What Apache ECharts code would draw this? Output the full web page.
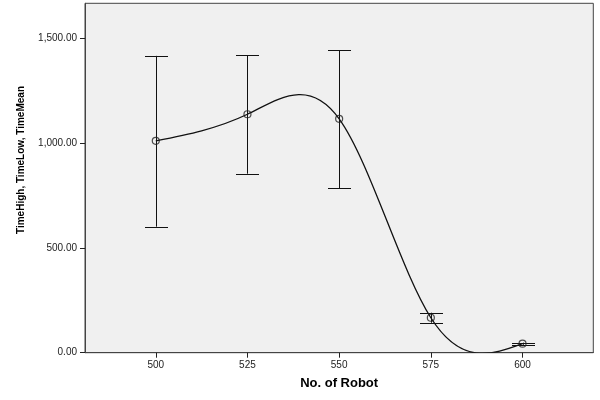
<!DOCTYPE html>
<html><head><meta charset="utf-8">
<script src="https://cdn.jsdelivr.net/npm/echarts@6/dist/echarts.min.js"></script>
<style>html,body{margin:0;padding:0;background:#fff}#c{width:600px;height:400px}</style>
</head><body><div id="c"></div>
<script>
const robots = [500, 525, 550, 575, 600];
const timeMean = [1012, 1139, 1117, 167, 43];
const timeLow = [602, 855, 786, 143, 38];
const timeHigh = [1418, 1421, 1445, 191, 48];
const xTicks = [500, 525, 550, 575, 600];
const yTicks = [0, 500, 1000, 1500];

// natural cubic spline through (xs, ys) -> bezier control points in data space
function splineBeziers(xs, ys) {
  const n = xs.length;
  const h = [];
  for (let i = 0; i < n - 1; i++) h.push(xs[i + 1] - xs[i]);
  const M = new Array(n).fill(0);
  if (n > 2) {
    const a = [], b = [], c = [], d = [];
    for (let i = 1; i < n - 1; i++) {
      a.push(h[i - 1]); b.push(2 * (h[i - 1] + h[i])); c.push(h[i]);
      d.push(6 * ((ys[i + 1] - ys[i]) / h[i] - (ys[i] - ys[i - 1]) / h[i - 1]));
    }
    const m = b.length;
    for (let i = 1; i < m; i++) {
      const w = a[i] / b[i - 1];
      b[i] -= w * c[i - 1]; d[i] -= w * d[i - 1];
    }
    const sol = new Array(m);
    sol[m - 1] = d[m - 1] / b[m - 1];
    for (let i = m - 2; i >= 0; i--) sol[i] = (d[i] - c[i] * sol[i + 1]) / b[i];
    for (let i = 0; i < m; i++) M[i + 1] = sol[i];
  }
  const segs = [];
  for (let i = 0; i < n - 1; i++) {
    const hi = h[i], s = (ys[i + 1] - ys[i]) / hi;
    const d0 = s - hi * (2 * M[i] + M[i + 1]) / 6;
    const d1 = s + hi * (M[i] + 2 * M[i + 1]) / 6;
    segs.push([
      [xs[i] + hi / 3, ys[i] + d0 * hi / 3],
      [xs[i + 1] - hi / 3, ys[i + 1] - d1 * hi / 3],
      [xs[i + 1], ys[i + 1]]
    ]);
  }
  return segs;
}

const segs = splineBeziers(robots, timeMean);
const fmt = v => Number(v).toLocaleString('en-US', {minimumFractionDigits: 2, maximumFractionDigits: 2});
const labelFont = {fontFamily: 'Liberation Sans, Arial, sans-serif', fontSize: 10, color: '#222'};

const chart = echarts.init(document.getElementById('c'), null, {renderer: 'canvas'});
chart.setOption({
  animation: false,
  backgroundColor: '#fff',
  grid: {left: 85, right: 6.7, top: 3.3, bottom: 47.3, show: true, backgroundColor: '#f0f0f0', borderColor: '#444', borderWidth: 1},
  xAxis: {
    type: 'value', min: 480.7, max: 619.3,
    name: 'No. of Robot', nameLocation: 'middle', nameGap: 24,
    nameTextStyle: {fontFamily: 'Liberation Sans, Arial, sans-serif', fontSize: 13, fontWeight: 'bold', color: '#000'},
    axisLine: {show: true, onZero: false, lineStyle: {color: '#444'}},
    axisTick: {show: true, length: 5, customValues: xTicks, lineStyle: {color: '#222'}},
    axisLabel: Object.assign({customValues: xTicks, margin: 8}, labelFont),
    splitLine: {show: false}
  },
  yAxis: {
    type: 'value', min: 0, max: 1669,
    name: 'TimeHigh, TimeLow, TimeMean', nameLocation: 'middle', nameGap: 59,
    nameTextStyle: {fontFamily: 'Liberation Sans, Arial, sans-serif', fontSize: 10, fontWeight: 'bold', color: '#000', padding: [0, 0, 0, 36]},
    axisLine: {show: true, lineStyle: {color: '#444'}},
    axisTick: {show: true, length: 5, customValues: yTicks, lineStyle: {color: '#222'}},
    axisLabel: Object.assign({customValues: yTicks, margin: 8, formatter: fmt}, labelFont),
    splitLine: {show: false}
  },
  series: [
    {
      type: 'custom', name: 'curve', clip: true, silent: true,
      data: [[robots[0], timeMean[0]]],
      renderItem: function (params, api) {
        const p0 = api.coord([robots[0], timeMean[0]]);
        let d = 'M' + p0[0] + ' ' + p0[1];
        segs.forEach(s => {
          const a = api.coord(s[0]), b = api.coord(s[1]), c = api.coord(s[2]);
          d += ' C' + a[0] + ' ' + a[1] + ' ' + b[0] + ' ' + b[1] + ' ' + c[0] + ' ' + c[1];
        });
        return {type: 'path', shape: {pathData: d}, style: {fill: null, stroke: '#111', lineWidth: 1.3}};
      }
    },
    {
      type: 'custom', name: 'error', clip: true, silent: true,
      data: robots.map((x, i) => [x, timeLow[i], timeHigh[i]]),
      encode: {x: 0, y: [1, 2]},
      renderItem: function (params, api) {
        const x = api.value(0);
        const lo = api.coord([x, api.value(1)]);
        const hi = api.coord([x, api.value(2)]);
        const px = Math.round(lo[0]) + 0.5;
        const w = 11.5;
        const st = {stroke: '#111', lineWidth: 1};
        return {type: 'group', children: [
          {type: 'line', shape: {x1: px, y1: hi[1], x2: px, y2: lo[1]}, style: st},
          {type: 'line', shape: {x1: px - w, y1: Math.round(hi[1]) + 0.5, x2: px + w, y2: Math.round(hi[1]) + 0.5}, style: st},
          {type: 'line', shape: {x1: px - w, y1: Math.round(lo[1]) + 0.5, x2: px + w, y2: Math.round(lo[1]) + 0.5}, style: st}
        ]};
      }
    },
    {
      type: 'scatter', name: 'mean', silent: true,
      data: robots.map((x, i) => [x, timeMean[i]]),
      symbol: 'circle', symbolSize: 7,
      itemStyle: {color: 'rgba(0,0,0,0)', borderColor: '#222', borderWidth: 1.2}
    }
  ]
});
</script></body></html>
